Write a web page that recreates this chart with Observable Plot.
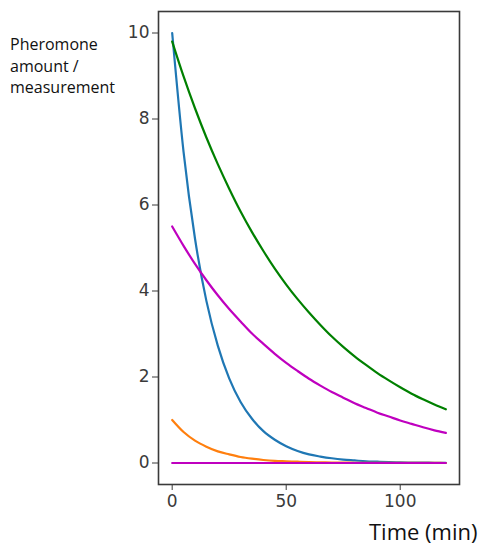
<!DOCTYPE html>
<html><head><meta charset="utf-8">
<script src="https://cdn.jsdelivr.net/npm/d3@7"></script>
<script src="https://cdn.jsdelivr.net/npm/@observablehq/plot@0.6"></script>
<style>
body{margin:0;background:#fff;}
#wrap{position:relative;width:491px;height:547px;}
.lbl{position:absolute;font-family:"Open Sans",sans-serif;color:#111;white-space:nowrap;}
</style></head>
<body><div id="wrap"></div>
<script>
const time = [0,5,10,15,20,25,30,35,40,45,50,55,60,65,70,75,80,85,90,95,100,105,110,115,120];
const blue = [10,7.23,5.22,3.77,2.73,1.97,1.42,1.03,0.74,0.54,0.39,0.28,0.20,0.15,0.11,0.08,0.06,0.04,0.03,0.02,0.015,0.01,0.008,0.006,0.004];
const green = [9.8,8.99,8.25,7.57,6.95,6.38,5.85,5.37,4.93,4.52,4.15,3.81,3.50,3.21,2.94,2.70,2.48,2.28,2.09,1.92,1.76,1.61,1.48,1.36,1.25];
const magenta = [5.5,5.05,4.63,4.25,3.90,3.58,3.29,3.01,2.77,2.54,2.33,2.14,1.96,1.80,1.65,1.52,1.39,1.28,1.17,1.08,0.99,0.91,0.83,0.76,0.70];
const orange = [1,0.72,0.52,0.38,0.27,0.20,0.14,0.10,0.07,0.05,0.04,0.03,0.02,0.015,0.01,0.008,0.006,0.004,0.003,0.002,0.002,0.001,0.001,0.001,0];
const flat = [0,0,0,0,0,0,0,0,0,0,0,0,0,0,0,0,0,0,0,0,0,0,0,0,0];
const xTicks = [0,50,100];
const yTicks = [0,2,4,6,8,10];

const series = [
  {name:"blue", values:blue, color:"#1f77b4"},
  {name:"green", values:green, color:"#008000"},
  {name:"magenta", values:magenta, color:"#bf00bf"},
  {name:"orange", values:orange, color:"#ff7f0e"},
  {name:"flat", values:flat, color:"#bf00bf"}
];
const rows = series.flatMap(s => time.map((t,i) => ({t, v:s.values[i], s:s.name, c:s.color})));

const chart = Plot.plot({
  width:491, height:547,
  marginLeft:158, marginRight:32, marginTop:11, marginBottom:63,
  style:{fontFamily:"DejaVu Sans, sans-serif", fontSize:"17px", color:"#3a3a3a", background:"#fff"},
  x:{domain:[-6,126]},
  y:{domain:[-0.5,10.5]},
  marks:[
    ...series.map(s => Plot.line(rows.filter(r => r.s===s.name), {x:"t", y:"v", stroke:s.color, strokeWidth:2.2, curve:"monotone-x"})),
    Plot.frame({stroke:"#3a3a3a", strokeWidth:1.6}),
    Plot.axisX({ticks:xTicks, tickSize:6, tickPadding:4, label:null, tickFormat:d=>d}),
    Plot.axisY({ticks:yTicks, tickSize:6, tickPadding:3, label:null, tickFormat:d=>d})
  ]
});
const wrap = document.getElementById("wrap");
wrap.appendChild(chart);
const yl = document.createElement("div");
yl.className="lbl";
yl.style.left="10px"; yl.style.top="34px"; yl.style.fontSize="16px"; yl.style.lineHeight="21.5px";
yl.innerHTML="Pheromone<br>amount /<br>measurement";
wrap.appendChild(yl);
const xl = document.createElement("div");
xl.className="lbl";
xl.style.left="369px"; xl.style.top="516px"; xl.style.fontSize="22px";
xl.textContent="Time (min)";
wrap.appendChild(xl);
</script></body></html>
